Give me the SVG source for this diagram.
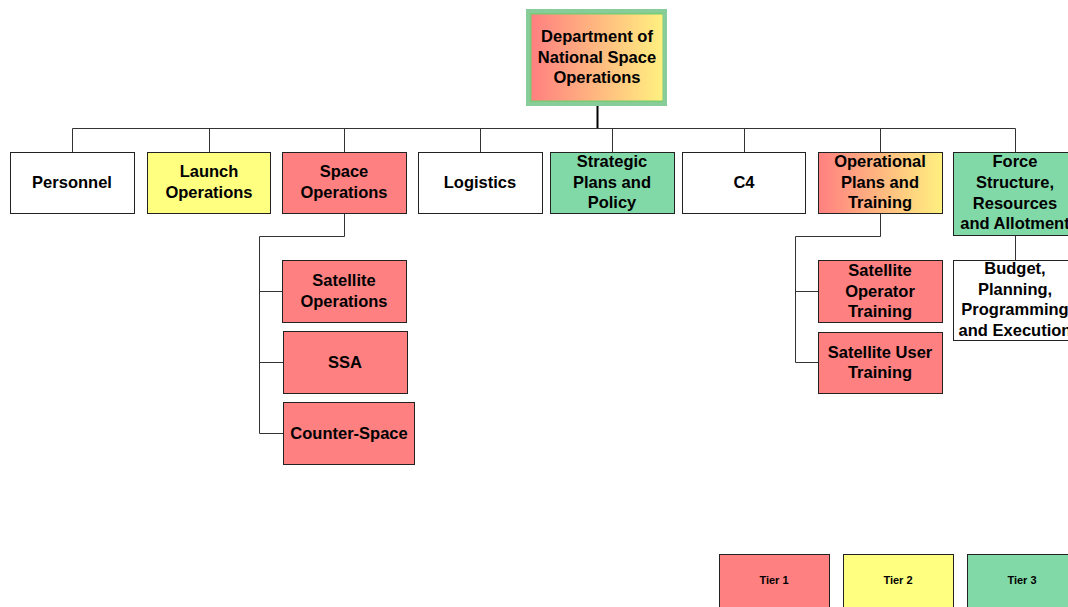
<svg xmlns="http://www.w3.org/2000/svg" width="1068" height="607" viewBox="0 0 1068 607">
<defs>
<linearGradient id="ry" x1="0" y1="0" x2="1" y2="0">
<stop offset="0" stop-color="#ff8080"/>
<stop offset="1" stop-color="#fff080"/>
</linearGradient>
</defs>
<style>
.b{stroke:#222;stroke-width:1}
.w{fill:#fff}.r{fill:#ff8080}.y{fill:#ffff80}.g{fill:#82d9a8}.gr{fill:url(#ry)}
text{font-family:"Liberation Sans",Arial,sans-serif;font-weight:bold;font-size:16.5px;fill:#000;text-anchor:middle}
.s{font-size:11px}
.c{fill:none;stroke:#333;stroke-width:1}
</style>
<g id="connectors">
<path class="c" d="M72.5 152V128.5H1015.5V152"/>
<path class="c" d="M209.5 128V152M344.5 128V152M480.5 128V152M612.5 128V152M744.5 128V152M880.5 128V152"/>
<path d="M597.5 106V128" stroke="#000" stroke-width="2"/>
<path class="c" d="M344.5 213V236.5H259.5V433.5H283M259.5 291.5H282M259.5 362.5H283"/>
<path class="c" d="M880.5 213V236.5H795.5V362.5H818M795.5 291.5H818"/>
<path class="c" d="M1015.5 235V260"/>
</g>
<g id="n-top">
<rect x="528" y="11" width="137" height="93" fill="#77cc77" stroke="#88cc99" stroke-width="4"/>
<rect x="531.5" y="14.5" width="131" height="86" class="gr"/>
<text x="597" y="42">Department of</text>
<text x="597" y="63">National Space</text>
<text x="597" y="83">Operations</text>
</g>
<g id="n-personnel"><rect x="10.5" y="152.5" width="124" height="61" class="b w"/><text x="72" y="188">Personnel</text></g>
<g id="n-launch"><rect x="147.5" y="152.5" width="123" height="61" class="b y"/><text x="209" y="177">Launch</text><text x="209" y="198">Operations</text></g>
<g id="n-spaceops"><rect x="282.5" y="152.5" width="124" height="61" class="b r"/><text x="344" y="177">Space</text><text x="344" y="198">Operations</text></g>
<g id="n-logistics"><rect x="418.5" y="152.5" width="124" height="61" class="b w"/><text x="480" y="188">Logistics</text></g>
<g id="n-strategic"><rect x="550.5" y="152.5" width="124" height="61" class="b g"/><text x="612" y="167">Strategic</text><text x="612" y="188">Plans and</text><text x="612" y="208">Policy</text></g>
<g id="n-c4"><rect x="682.5" y="152.5" width="123" height="61" class="b w"/><text x="744" y="188">C4</text></g>
<g id="n-opplans"><rect x="818.5" y="152.5" width="124" height="61" class="b gr"/><text x="880" y="167">Operational</text><text x="880" y="188">Plans and</text><text x="880" y="208">Training</text></g>
<g id="n-force"><rect x="953.5" y="152.5" width="124" height="83" class="b g"/><text x="1015" y="167">Force</text><text x="1015" y="188">Structure,</text><text x="1015" y="209">Resources</text><text x="1015" y="229">and Allotment</text></g>
<g id="n-satops"><rect x="282.5" y="260.5" width="124" height="62" class="b r"/><text x="344" y="286">Satellite</text><text x="344" y="307">Operations</text></g>
<g id="n-ssa"><rect x="283.5" y="331.5" width="124" height="62" class="b r"/><text x="345" y="368">SSA</text></g>
<g id="n-counter"><rect x="283.5" y="402.5" width="131" height="62" class="b r"/><text x="349" y="439">Counter-Space</text></g>
<g id="n-satoptrain"><rect x="818.5" y="260.5" width="124" height="62" class="b r"/><text x="880" y="276">Satellite</text><text x="880" y="297">Operator</text><text x="880" y="317">Training</text></g>
<g id="n-satusertrain"><rect x="818.5" y="332.5" width="124" height="61" class="b r"/><text x="880" y="358">Satellite User</text><text x="880" y="378">Training</text></g>
<g id="n-budget"><rect x="953.5" y="260.5" width="124" height="80" class="b w"/><text x="1015" y="274">Budget,</text><text x="1015" y="295">Planning,</text><text x="1015" y="315">Programming</text><text x="1015" y="336">and Execution</text></g>
<g id="legend-tier1"><rect x="719.5" y="554.5" width="110" height="60" class="b r"/><text class="s" x="774" y="584">Tier 1</text></g>
<g id="legend-tier2"><rect x="843.5" y="554.5" width="110" height="60" class="b y"/><text class="s" x="898" y="584">Tier 2</text></g>
<g id="legend-tier3"><rect x="967.5" y="554.5" width="110" height="60" class="b g"/><text class="s" x="1022" y="584">Tier 3</text></g>
</svg>
